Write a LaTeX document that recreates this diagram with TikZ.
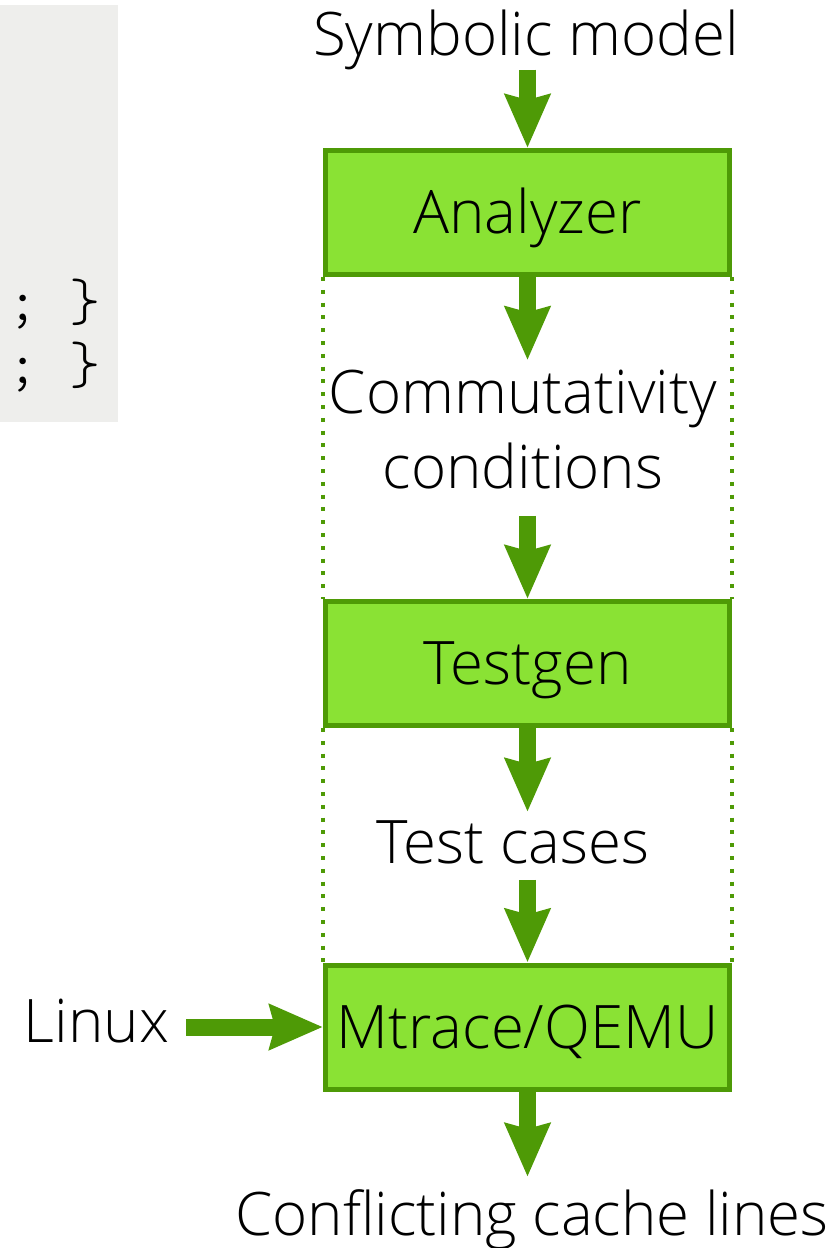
\documentclass[tikz,border=0pt]{standalone}
\usepackage{fontspec}
\setmainfont{Open Sans}[UprightFont={* Light}]
\newfontfamily\codefont{lmmonolt10-regular.otf}
\usetikzlibrary{arrows.meta}
\definecolor{boxgreen}{HTML}{8AE234}
\definecolor{darkgreen}{HTML}{4E9A06}
\definecolor{codegrey}{HTML}{EEEEEC}
\tikzset{
  stage/.style={draw=darkgreen,fill=boxgreen,line width=5pt,
    minimum width=404pt,minimum height=124pt,
    text height=57pt,text depth=15pt},
  label/.style={inner sep=0pt},
  bigarrow/.style={draw=darkgreen,line width=17pt,
    -{Stealth[length=53pt,width=44pt,inset=5pt]}},
  guide/.style={draw=darkgreen,line width=4pt,dash pattern=on 4pt off 8.8pt}
}
\begin{document}
\begin{tikzpicture}[x=1pt,y=-1pt,font=\fontsize{60}{75}\selectfont]
  \useasboundingbox (0,0) rectangle (831,1248);
  % code panel
  \fill[codegrey] (0,5) rectangle (118,422);
  \node[label,anchor=base west,align=left,font=\codefont\fontsize{59.5}{63}\selectfont]
    (code) at (6.9,383) {; \}\\; \}};
  % stages
  \node[stage] (analyzer) at (527.5,212.5) {Analyzer};
  \node[stage] (testgen)  at (527.5,663.5) {Testgen};
  \node[stage] (mtrace)   at (527.5,1027)  {Mtrace/QEMU};
  % inputs and outputs
  \node[label,anchor=base] (model) at (526,55) {Symbolic model};
  \node[label,align=center] (conds) at (523,430) {Commutativity\\conditions};
  \node[label,anchor=base] (cases) at (513,863) {Test cases};
  \node[label,anchor=base] (linux) at (96.5,1042) {Linux};
  \node[label,anchor=base] (lines) at (532,1235) {Conflicting cache lines};
  % dotted guides
  \foreach \a/\b in {analyzer/testgen,testgen/mtrace} {
    \draw[guide] (\a.south west) -- (\b.north west);
    \draw[guide] (\a.south east) -- (\b.north east);
  }
  % flow
  \draw[bigarrow] (model.south -| analyzer.north) -- (analyzer.north);
  \draw[bigarrow,shorten >=10pt] (analyzer.south) -- (conds.north -| analyzer.south);
  \draw[bigarrow,shorten <=26pt] (conds.south -| testgen.north) -- (testgen.north);
  \draw[bigarrow,shorten >=8pt] (testgen.south) -- (cases.north -| testgen.south);
  \draw[bigarrow,shorten <=16pt] (cases.south -| mtrace.north) -- (mtrace.north);
  \draw[bigarrow,shorten >=12pt] (mtrace.south) -- (lines.north -| mtrace.south);
  \draw[bigarrow,shorten <=17pt] (linux.east |- mtrace.west) -- (mtrace.west);
\end{tikzpicture}
\end{document}
